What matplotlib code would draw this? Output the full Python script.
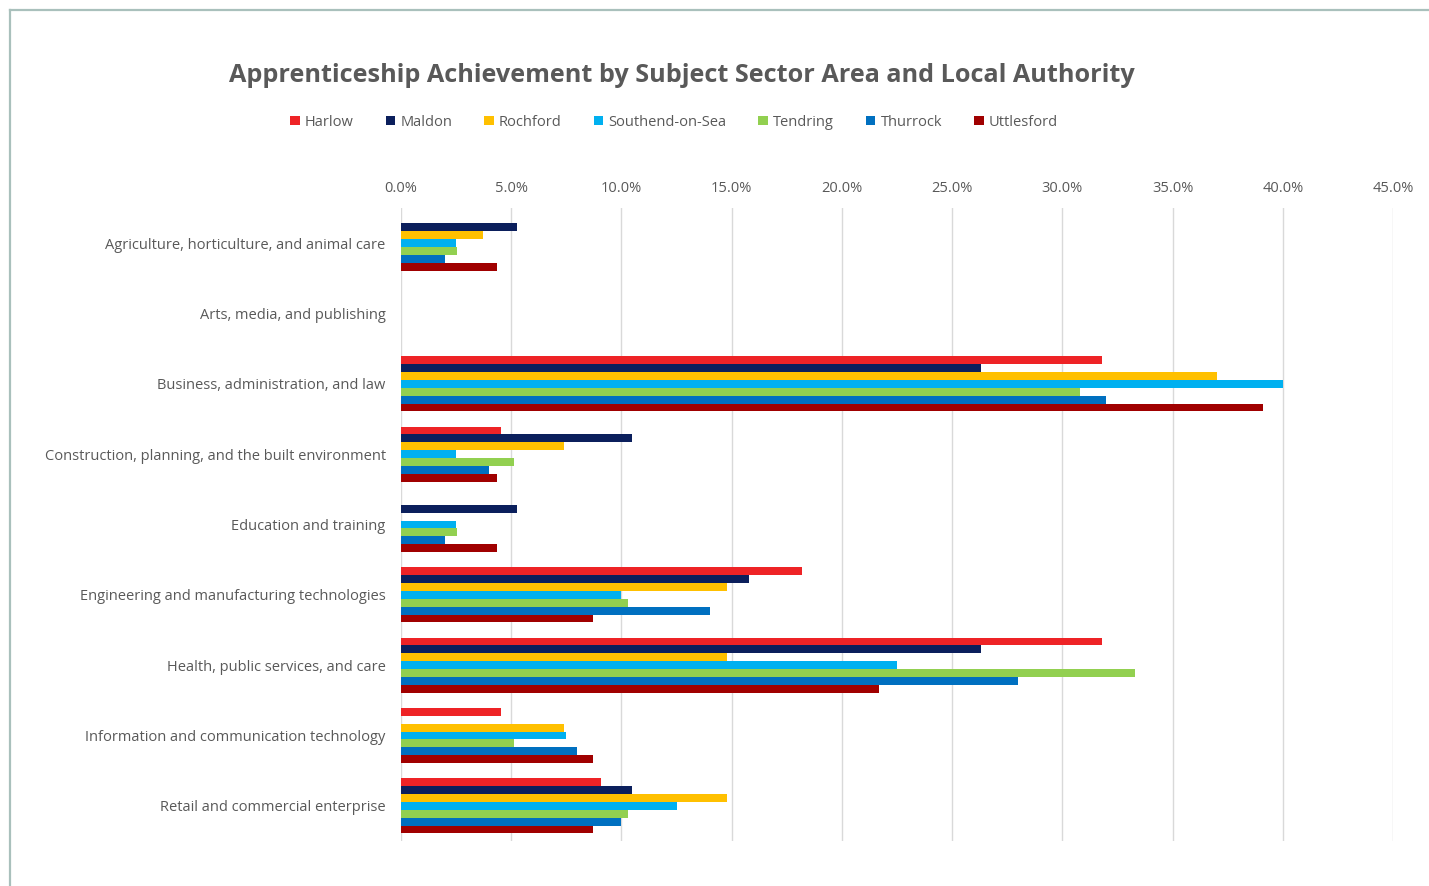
import matplotlib
matplotlib.use("Agg")
import matplotlib.pyplot as plt
import numpy as np
from matplotlib.lines import Line2D
from matplotlib.patches import Patch

plt.rcParams["font.family"] = ["Open Sans", "DejaVu Sans"]

sectors = [
    "Agriculture, horticulture, and animal care",
    "Arts, media, and publishing",
    "Business, administration, and law",
    "Construction, planning, and the built environment",
    "Education and training",
    "Engineering and manufacturing technologies",
    "Health, public services, and care",
    "Information and communication technology",
    "Retail and commercial enterprise",
]

# percentage of apprenticeship achievements per authority (NaN = none recorded)
harlow = [np.nan, np.nan, 31.8, 4.55, np.nan, 18.2, 31.8, 4.55, 9.09]
maldon = [5.26, np.nan, 26.3, 10.5, 5.26, 15.8, 26.3, np.nan, 10.5]
rochford = [3.7, np.nan, 37.0, 7.41, np.nan, 14.8, 14.8, 7.41, 14.8]
southend = [2.5, np.nan, 40.0, 2.5, 2.5, 10.0, 22.5, 7.5, 12.5]
tendring = [2.56, np.nan, 30.8, 5.13, 2.56, 10.3, 33.3, 5.13, 10.3]
thurrock = [2.0, np.nan, 32.0, 4.0, 2.0, 14.0, 28.0, 8.0, 10.0]
uttlesford = [4.35, np.nan, 39.1, 4.35, 4.35, 8.7, 21.7, 8.7, 8.7]

series = [
    ("Harlow", harlow, "#EE2326"),
    ("Maldon", maldon, "#0B1F5C"),
    ("Rochford", rochford, "#FFC000"),
    ("Southend-on-Sea", southend, "#00B0F0"),
    ("Tendring", tendring, "#92D050"),
    ("Thurrock", thurrock, "#0070C0"),
    ("Uttlesford", uttlesford, "#A00000"),
]

W, H = 1429, 886
fig = plt.figure(figsize=(W / 100, H / 100), dpi=100)
fig.patch.set_facecolor("white")

# frame lines along top and left edge
frame = "#A9C0BC"
fig.add_artist(Line2D([10 / W, 1], [1 - 10 / H, 1 - 10 / H], color=frame, lw=1.6,
                      transform=fig.transFigure))
fig.add_artist(Line2D([10 / W, 10 / W], [0, 1 - 10 / H], color=frame, lw=1.6,
                      transform=fig.transFigure))

ax = fig.add_axes([401 / W, 45 / H, (1393 - 401) / W, (841 - 208) / H])

y = np.arange(len(sectors))
bar_h = 0.112
n = len(series)
for i, (name, vals, col) in enumerate(series):
    off = (i - (n - 1) / 2) * bar_h
    ax.barh(y + off, np.nan_to_num(vals), height=bar_h, color=col, label=name,
            zorder=3, linewidth=0)

ax.set_ylim(len(sectors) - 0.5, -0.5)
ax.set_xlim(0, 45)
ax.set_xticks(np.arange(0, 46, 5))
ax.set_xticklabels([f"{v:.1f}%" for v in np.arange(0, 46, 5)])
ax.xaxis.tick_top()
ax.set_yticks(y)
ax.set_yticklabels(sectors, va="center_baseline")
ax.tick_params(axis="both", length=0, colors="#595959", labelsize=10.5)
ax.tick_params(axis="x", pad=9)
ax.tick_params(axis="y", pad=11)
ax.grid(axis="x", color="#D9D9D9", lw=1, zorder=0)
for s in ax.spines.values():
    s.set_visible(False)

fig.text(682 / W, 1 - 75 / H, "Apprenticeship Achievement by Subject Sector Area and Local Authority",
         ha="center", va="center", fontsize=18.2, fontweight="bold", color="#595959")

handles = [Patch(facecolor=c, edgecolor="none", label=nm) for nm, _, c in series]
fig.legend(handles=handles, loc="center", bbox_to_anchor=(674 / W, 1 - 122 / H), ncol=7,
           frameon=False, fontsize=10.5, handlelength=0.65, handleheight=0.65,
           handletextpad=0.35, columnspacing=2.2, labelcolor="#595959")

fig.savefig("out.png", dpi=100, facecolor="white")
